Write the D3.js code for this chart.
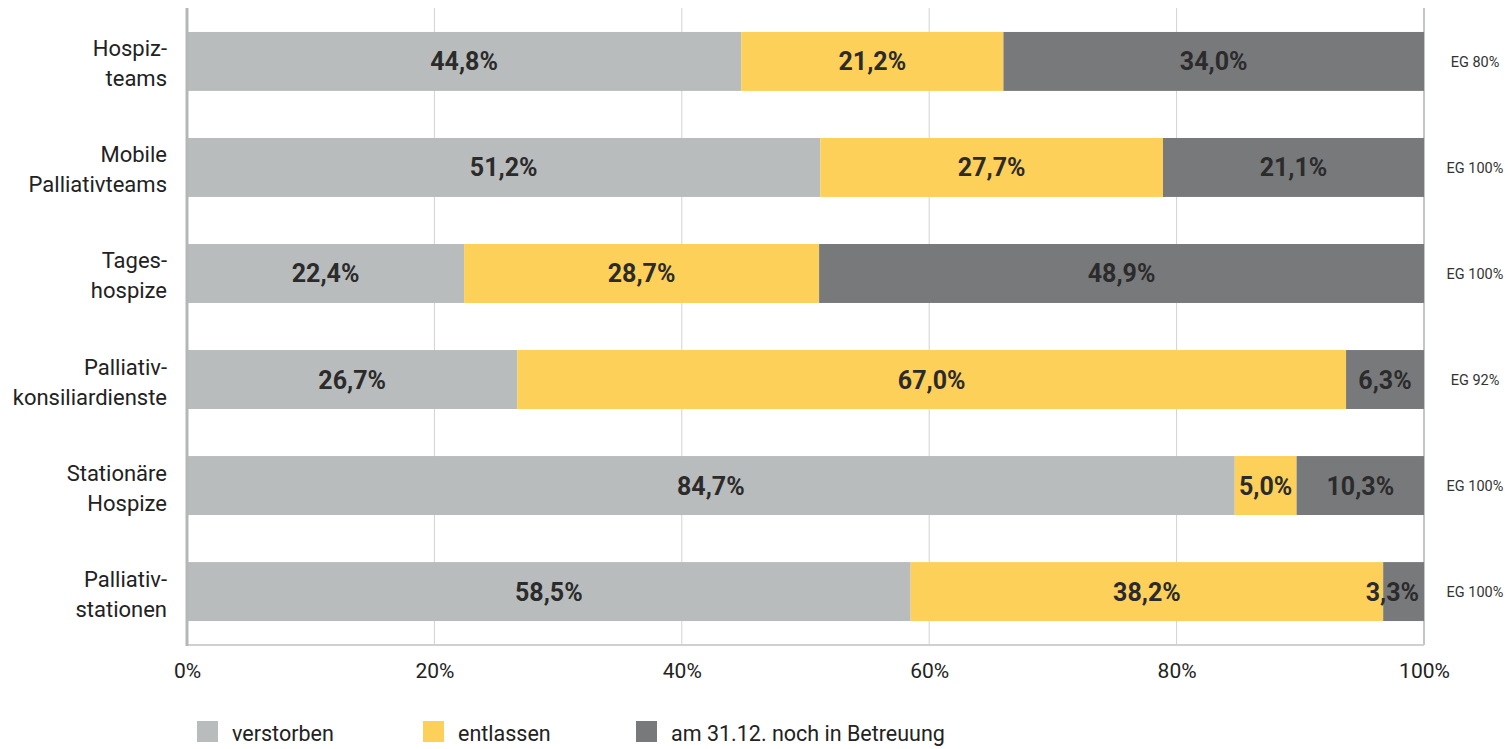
<!DOCTYPE html>
<html>
<head>
<meta charset="utf-8">
<script src="https://cdn.jsdelivr.net/npm/d3@7"></script>
<style>
  html, body { margin: 0; padding: 0; background: #fff; }
  svg { display: block; font-family: Roboto, "Noto Sans", sans-serif; }
</style>
</head>
<body>
<svg id="chart" width="1510" height="749"></svg>
<script>
const categories = [
  ["Hospiz-", "teams"],
  ["Mobile", "Palliativteams"],
  ["Tages-", "hospize"],
  ["Palliativ-", "konsiliardienste"],
  ["Stationäre", "Hospize"],
  ["Palliativ-", "stationen"]
];
const seriesNames = ["verstorben", "entlassen", "am 31.12. noch in Betreuung"];
const verstorben = [44.8, 51.2, 22.4, 26.7, 84.7, 58.5];
const entlassen  = [21.2, 27.7, 28.7, 67.0, 5.0, 38.2];
const betreuung  = [34.0, 21.1, 48.9, 6.3, 10.3, 3.3];
const egLabels = ["EG 80%", "EG 100%", "EG 100%", "EG 92%", "EG 100%", "EG 100%"];
const tickValues = [0, 20, 40, 60, 80, 100];
const colors = ["#b9bcbc", "#fdd05a", "#77797b"];

const svg = d3.select("#chart");
const x = d3.scaleLinear().domain([0, 100]).range([187, 1424]);
const y = d3.scaleBand().domain(d3.range(categories.length)).range([8, 645])
  .paddingInner(0.444).paddingOuter(0.226);

const fmt = v => v.toFixed(1).replace(".", ",") + "%";

// gridlines
svg.append("g").selectAll("line").data(tickValues.filter(t => t > 0)).join("line")
  .attr("x1", d => x(d)).attr("x2", d => x(d))
  .attr("y1", 8).attr("y2", 645)
  .attr("stroke", d => d === 100 ? "#c4c6c6" : "#d2d2d2")
  .attr("stroke-width", d => d === 100 ? 2 : 1);

// bottom line
svg.append("line").attr("x1", x(0)).attr("x2", x(100)).attr("y1", 645).attr("y2", 645)
  .attr("stroke", "#cfd0d0").attr("stroke-width", 2);

// stacked data
const rows = categories.map((c, i) => ({ i, vals: [verstorben[i], entlassen[i], betreuung[i]] }));
const stackData = d3.stack().keys([0, 1, 2]).value((d, k) => d.vals[k])(rows);

const layers = svg.append("g").selectAll("g").data(stackData).join("g")
  .attr("fill", (d, k) => colors[k]);
layers.selectAll("rect").data(d => d).join("rect")
  .attr("x", d => x(d[0]))
  .attr("width", d => x(d[1]) - x(d[0]))
  .attr("y", d => y(d.data.i))
  .attr("height", y.bandwidth());

// value labels
const labelG = svg.append("g");
stackData.forEach((layer, k) => {
  layer.forEach(d => {
    const v = d.data.vals[k];
    let cx = (x(d[0]) + x(d[1])) / 2;
    const t = labelG.append("text")
      .attr("y", y(d.data.i) + y.bandwidth() / 2)
      .attr("dy", "0.36em")
      .attr("text-anchor", "middle")
      .attr("font-size", 25)
      .attr("font-weight", 700)
      .attr("fill", "#2b2b2b")
      .text(fmt(v));
    const w = t.node().getComputedTextLength();
    if (cx + w / 2 > x(100) - 5) cx = x(100) - 5 - w / 2;
    t.attr("x", cx);
  });
});

// left axis line
svg.append("line").attr("x1", x(0)).attr("x2", x(0)).attr("y1", 8).attr("y2", 646)
  .attr("stroke", "#b5b7b7").attr("stroke-width", 3);

// category labels
const catG = svg.append("g");
categories.forEach((lines, i) => {
  const cy = y(i) + y.bandwidth() / 2;
  const t = catG.append("text")
    .attr("text-anchor", "end")
    .attr("font-size", 22)
    .attr("fill", "#222");
  lines.forEach((ln, j) => {
    t.append("tspan").attr("x", 167).attr("y", cy + (j === 0 ? -5 : 25)).text(ln);
  });
});

// EG labels
svg.append("g").selectAll("text").data(egLabels).join("text")
  .attr("x", 1475)
  .attr("y", (d, i) => y(i) + y.bandwidth() / 2)
  .attr("dy", "0.36em")
  .attr("text-anchor", "middle")
  .attr("font-size", 14.5)
  .attr("fill", "#333")
  .text(d => d);

// x tick labels
const xAxis = d3.axisBottom(x).tickValues(tickValues).tickSize(0).tickPadding(0)
  .tickFormat(d => d + "%");
const ax = svg.append("g").attr("transform", "translate(0,663)").call(xAxis);
ax.select(".domain").remove();
ax.selectAll("text").attr("font-size", 21).attr("fill", "#222")
  .attr("font-family", "Roboto, 'Noto Sans', sans-serif").attr("dy", "0.71em");

// legend
const legendX = [197, 423, 636];
const lg = svg.append("g").selectAll("g").data(seriesNames).join("g")
  .attr("transform", (d, i) => `translate(${legendX[i]},721)`);
lg.append("rect").attr("width", 21).attr("height", 21).attr("fill", (d, i) => colors[i]);
lg.append("text").attr("x", 35).attr("y", 20).attr("font-size", 21.5).attr("fill", "#222").text(d => d);
</script>
</body>
</html>
